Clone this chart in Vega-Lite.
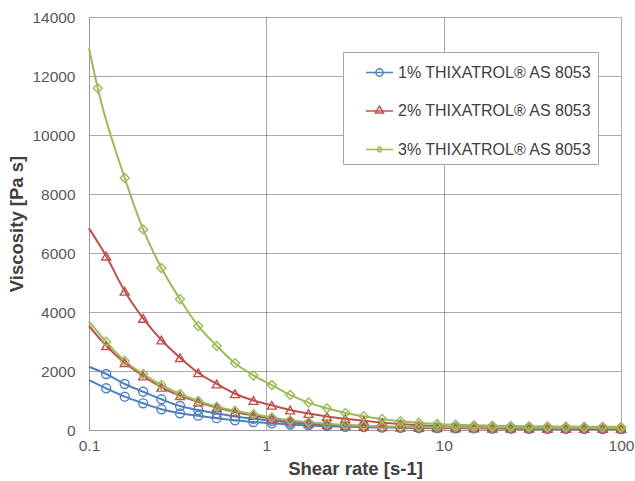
{
  "$schema": "https://vega.github.io/schema/vega-lite/v6.json",
  "width": 532,
  "height": 413,
  "autosize": {"type": "none"},
  "padding": {"left": 89, "top": 17, "right": 14, "bottom": 51},
  "background": "white",
  "config": {
    "view": {"stroke": null},
    "font": "Liberation Sans",
    "axis": {
      "labelFont": "Liberation Sans",
      "labelFontSize": 15.5,
      "labelColor": "#595959",
      "titleFont": "Liberation Sans",
      "titleFontSize": 18.5,
      "titleFontWeight": "bold",
      "titleColor": "#404040",
      "ticks": false,
      "grid": true,
      "gridColor": "#555555",
      "gridDash": [1, 1],
      "gridWidth": 1,
      "domainColor": "#9a9a9a",
      "domainWidth": 1,
      "labelFlush": false,
      "labelOverlap": false
    }
  },
  "datasets": {
    "curves": [
      {"series": "1% THIXATROL® AS 8053", "run": "up", "rate": 0.1, "viscosity": 2146},
      {"series": "1% THIXATROL® AS 8053", "run": "up", "rate": 0.125, "viscosity": 1898},
      {"series": "1% THIXATROL® AS 8053", "run": "up", "rate": 0.159, "viscosity": 1559},
      {"series": "1% THIXATROL® AS 8053", "run": "up", "rate": 0.202, "viscosity": 1298},
      {"series": "1% THIXATROL® AS 8053", "run": "up", "rate": 0.256, "viscosity": 1041},
      {"series": "1% THIXATROL® AS 8053", "run": "up", "rate": 0.326, "viscosity": 814},
      {"series": "1% THIXATROL® AS 8053", "run": "up", "rate": 0.413, "viscosity": 678},
      {"series": "1% THIXATROL® AS 8053", "run": "up", "rate": 0.525, "viscosity": 560},
      {"series": "1% THIXATROL® AS 8053", "run": "up", "rate": 0.666, "viscosity": 460},
      {"series": "1% THIXATROL® AS 8053", "run": "up", "rate": 0.846, "viscosity": 380},
      {"series": "1% THIXATROL® AS 8053", "run": "up", "rate": 1.074, "viscosity": 310},
      {"series": "1% THIXATROL® AS 8053", "run": "up", "rate": 1.363, "viscosity": 255},
      {"series": "1% THIXATROL® AS 8053", "run": "up", "rate": 1.73, "viscosity": 210},
      {"series": "1% THIXATROL® AS 8053", "run": "up", "rate": 2.197, "viscosity": 175},
      {"series": "1% THIXATROL® AS 8053", "run": "up", "rate": 2.789, "viscosity": 150},
      {"series": "1% THIXATROL® AS 8053", "run": "up", "rate": 3.541, "viscosity": 130},
      {"series": "1% THIXATROL® AS 8053", "run": "up", "rate": 4.495, "viscosity": 115},
      {"series": "1% THIXATROL® AS 8053", "run": "up", "rate": 5.706, "viscosity": 100},
      {"series": "1% THIXATROL® AS 8053", "run": "up", "rate": 7.244, "viscosity": 90},
      {"series": "1% THIXATROL® AS 8053", "run": "up", "rate": 9.196, "viscosity": 82},
      {"series": "1% THIXATROL® AS 8053", "run": "up", "rate": 11.68, "viscosity": 75},
      {"series": "1% THIXATROL® AS 8053", "run": "up", "rate": 14.82, "viscosity": 70},
      {"series": "1% THIXATROL® AS 8053", "run": "up", "rate": 18.82, "viscosity": 65},
      {"series": "1% THIXATROL® AS 8053", "run": "up", "rate": 23.89, "viscosity": 60},
      {"series": "1% THIXATROL® AS 8053", "run": "up", "rate": 30.33, "viscosity": 56},
      {"series": "1% THIXATROL® AS 8053", "run": "up", "rate": 38.5, "viscosity": 52},
      {"series": "1% THIXATROL® AS 8053", "run": "up", "rate": 48.88, "viscosity": 48},
      {"series": "1% THIXATROL® AS 8053", "run": "up", "rate": 62.03, "viscosity": 45},
      {"series": "1% THIXATROL® AS 8053", "run": "up", "rate": 78.76, "viscosity": 42},
      {"series": "1% THIXATROL® AS 8053", "run": "up", "rate": 100, "viscosity": 40},

      {"series": "1% THIXATROL® AS 8053", "run": "down", "rate": 0.1, "viscosity": 1695},
      {"series": "1% THIXATROL® AS 8053", "run": "down", "rate": 0.125, "viscosity": 1414},
      {"series": "1% THIXATROL® AS 8053", "run": "down", "rate": 0.159, "viscosity": 1129},
      {"series": "1% THIXATROL® AS 8053", "run": "down", "rate": 0.202, "viscosity": 905},
      {"series": "1% THIXATROL® AS 8053", "run": "down", "rate": 0.256, "viscosity": 702},
      {"series": "1% THIXATROL® AS 8053", "run": "down", "rate": 0.326, "viscosity": 566},
      {"series": "1% THIXATROL® AS 8053", "run": "down", "rate": 0.413, "viscosity": 485},
      {"series": "1% THIXATROL® AS 8053", "run": "down", "rate": 0.525, "viscosity": 400},
      {"series": "1% THIXATROL® AS 8053", "run": "down", "rate": 0.666, "viscosity": 330},
      {"series": "1% THIXATROL® AS 8053", "run": "down", "rate": 0.846, "viscosity": 270},
      {"series": "1% THIXATROL® AS 8053", "run": "down", "rate": 1.074, "viscosity": 225},
      {"series": "1% THIXATROL® AS 8053", "run": "down", "rate": 1.363, "viscosity": 185},
      {"series": "1% THIXATROL® AS 8053", "run": "down", "rate": 1.73, "viscosity": 155},
      {"series": "1% THIXATROL® AS 8053", "run": "down", "rate": 2.197, "viscosity": 130},
      {"series": "1% THIXATROL® AS 8053", "run": "down", "rate": 2.789, "viscosity": 110},
      {"series": "1% THIXATROL® AS 8053", "run": "down", "rate": 3.541, "viscosity": 95},
      {"series": "1% THIXATROL® AS 8053", "run": "down", "rate": 4.495, "viscosity": 85},
      {"series": "1% THIXATROL® AS 8053", "run": "down", "rate": 5.706, "viscosity": 75},
      {"series": "1% THIXATROL® AS 8053", "run": "down", "rate": 7.244, "viscosity": 68},
      {"series": "1% THIXATROL® AS 8053", "run": "down", "rate": 9.196, "viscosity": 62},
      {"series": "1% THIXATROL® AS 8053", "run": "down", "rate": 11.68, "viscosity": 57},
      {"series": "1% THIXATROL® AS 8053", "run": "down", "rate": 14.82, "viscosity": 53},
      {"series": "1% THIXATROL® AS 8053", "run": "down", "rate": 18.82, "viscosity": 49},
      {"series": "1% THIXATROL® AS 8053", "run": "down", "rate": 23.89, "viscosity": 46},
      {"series": "1% THIXATROL® AS 8053", "run": "down", "rate": 30.33, "viscosity": 43},
      {"series": "1% THIXATROL® AS 8053", "run": "down", "rate": 38.5, "viscosity": 40},
      {"series": "1% THIXATROL® AS 8053", "run": "down", "rate": 48.88, "viscosity": 37},
      {"series": "1% THIXATROL® AS 8053", "run": "down", "rate": 62.03, "viscosity": 35},
      {"series": "1% THIXATROL® AS 8053", "run": "down", "rate": 78.76, "viscosity": 33},
      {"series": "1% THIXATROL® AS 8053", "run": "down", "rate": 100, "viscosity": 31},

      {"series": "2% THIXATROL® AS 8053", "run": "up", "rate": 0.1, "viscosity": 6837},
      {"series": "2% THIXATROL® AS 8053", "run": "up", "rate": 0.125, "viscosity": 5895},
      {"series": "2% THIXATROL® AS 8053", "run": "up", "rate": 0.159, "viscosity": 4705},
      {"series": "2% THIXATROL® AS 8053", "run": "up", "rate": 0.202, "viscosity": 3786},
      {"series": "2% THIXATROL® AS 8053", "run": "up", "rate": 0.256, "viscosity": 3051},
      {"series": "2% THIXATROL® AS 8053", "run": "up", "rate": 0.326, "viscosity": 2451},
      {"series": "2% THIXATROL® AS 8053", "run": "up", "rate": 0.413, "viscosity": 1942},
      {"series": "2% THIXATROL® AS 8053", "run": "up", "rate": 0.525, "viscosity": 1560},
      {"series": "2% THIXATROL® AS 8053", "run": "up", "rate": 0.666, "viscosity": 1230},
      {"series": "2% THIXATROL® AS 8053", "run": "up", "rate": 0.846, "viscosity": 1000},
      {"series": "2% THIXATROL® AS 8053", "run": "up", "rate": 1.074, "viscosity": 840},
      {"series": "2% THIXATROL® AS 8053", "run": "up", "rate": 1.363, "viscosity": 678},
      {"series": "2% THIXATROL® AS 8053", "run": "up", "rate": 1.73, "viscosity": 560},
      {"series": "2% THIXATROL® AS 8053", "run": "up", "rate": 2.197, "viscosity": 460},
      {"series": "2% THIXATROL® AS 8053", "run": "up", "rate": 2.789, "viscosity": 380},
      {"series": "2% THIXATROL® AS 8053", "run": "up", "rate": 3.541, "viscosity": 310},
      {"series": "2% THIXATROL® AS 8053", "run": "up", "rate": 4.495, "viscosity": 250},
      {"series": "2% THIXATROL® AS 8053", "run": "up", "rate": 5.706, "viscosity": 200},
      {"series": "2% THIXATROL® AS 8053", "run": "up", "rate": 7.244, "viscosity": 160},
      {"series": "2% THIXATROL® AS 8053", "run": "up", "rate": 9.196, "viscosity": 130},
      {"series": "2% THIXATROL® AS 8053", "run": "up", "rate": 11.68, "viscosity": 112},
      {"series": "2% THIXATROL® AS 8053", "run": "up", "rate": 14.82, "viscosity": 100},
      {"series": "2% THIXATROL® AS 8053", "run": "up", "rate": 18.82, "viscosity": 92},
      {"series": "2% THIXATROL® AS 8053", "run": "up", "rate": 23.89, "viscosity": 86},
      {"series": "2% THIXATROL® AS 8053", "run": "up", "rate": 30.33, "viscosity": 81},
      {"series": "2% THIXATROL® AS 8053", "run": "up", "rate": 38.5, "viscosity": 77},
      {"series": "2% THIXATROL® AS 8053", "run": "up", "rate": 48.88, "viscosity": 73},
      {"series": "2% THIXATROL® AS 8053", "run": "up", "rate": 62.03, "viscosity": 70},
      {"series": "2% THIXATROL® AS 8053", "run": "up", "rate": 78.76, "viscosity": 67},
      {"series": "2% THIXATROL® AS 8053", "run": "up", "rate": 100, "viscosity": 64},

      {"series": "2% THIXATROL® AS 8053", "run": "down", "rate": 0.1, "viscosity": 3525},
      {"series": "2% THIXATROL® AS 8053", "run": "down", "rate": 0.125, "viscosity": 2858},
      {"series": "2% THIXATROL® AS 8053", "run": "down", "rate": 0.159, "viscosity": 2280},
      {"series": "2% THIXATROL® AS 8053", "run": "down", "rate": 0.202, "viscosity": 1831},
      {"series": "2% THIXATROL® AS 8053", "run": "down", "rate": 0.256, "viscosity": 1448},
      {"series": "2% THIXATROL® AS 8053", "run": "down", "rate": 0.326, "viscosity": 1163},
      {"series": "2% THIXATROL® AS 8053", "run": "down", "rate": 0.413, "viscosity": 950},
      {"series": "2% THIXATROL® AS 8053", "run": "down", "rate": 0.525, "viscosity": 760},
      {"series": "2% THIXATROL® AS 8053", "run": "down", "rate": 0.666, "viscosity": 610},
      {"series": "2% THIXATROL® AS 8053", "run": "down", "rate": 0.846, "viscosity": 490},
      {"series": "2% THIXATROL® AS 8053", "run": "down", "rate": 1.074, "viscosity": 390},
      {"series": "2% THIXATROL® AS 8053", "run": "down", "rate": 1.363, "viscosity": 305},
      {"series": "2% THIXATROL® AS 8053", "run": "down", "rate": 1.73, "viscosity": 240},
      {"series": "2% THIXATROL® AS 8053", "run": "down", "rate": 2.197, "viscosity": 190},
      {"series": "2% THIXATROL® AS 8053", "run": "down", "rate": 2.789, "viscosity": 155},
      {"series": "2% THIXATROL® AS 8053", "run": "down", "rate": 3.541, "viscosity": 130},
      {"series": "2% THIXATROL® AS 8053", "run": "down", "rate": 4.495, "viscosity": 110},
      {"series": "2% THIXATROL® AS 8053", "run": "down", "rate": 5.706, "viscosity": 95},
      {"series": "2% THIXATROL® AS 8053", "run": "down", "rate": 7.244, "viscosity": 85},
      {"series": "2% THIXATROL® AS 8053", "run": "down", "rate": 9.196, "viscosity": 78},
      {"series": "2% THIXATROL® AS 8053", "run": "down", "rate": 11.68, "viscosity": 72},
      {"series": "2% THIXATROL® AS 8053", "run": "down", "rate": 14.82, "viscosity": 68},
      {"series": "2% THIXATROL® AS 8053", "run": "down", "rate": 18.82, "viscosity": 64},
      {"series": "2% THIXATROL® AS 8053", "run": "down", "rate": 23.89, "viscosity": 61},
      {"series": "2% THIXATROL® AS 8053", "run": "down", "rate": 30.33, "viscosity": 58},
      {"series": "2% THIXATROL® AS 8053", "run": "down", "rate": 38.5, "viscosity": 56},
      {"series": "2% THIXATROL® AS 8053", "run": "down", "rate": 48.88, "viscosity": 54},
      {"series": "2% THIXATROL® AS 8053", "run": "down", "rate": 62.03, "viscosity": 52},
      {"series": "2% THIXATROL® AS 8053", "run": "down", "rate": 78.76, "viscosity": 50},
      {"series": "2% THIXATROL® AS 8053", "run": "down", "rate": 100, "viscosity": 48},

      {"series": "3% THIXATROL® AS 8053", "run": "up", "rate": 0.1, "viscosity": 12940},
      {"series": "3% THIXATROL® AS 8053", "run": "up", "rate": 0.112, "viscosity": 11583},
      {"series": "3% THIXATROL® AS 8053", "run": "up", "rate": 0.159, "viscosity": 8543},
      {"series": "3% THIXATROL® AS 8053", "run": "up", "rate": 0.202, "viscosity": 6800},
      {"series": "3% THIXATROL® AS 8053", "run": "up", "rate": 0.256, "viscosity": 5492},
      {"series": "3% THIXATROL® AS 8053", "run": "up", "rate": 0.326, "viscosity": 4434},
      {"series": "3% THIXATROL® AS 8053", "run": "up", "rate": 0.413, "viscosity": 3526},
      {"series": "3% THIXATROL® AS 8053", "run": "up", "rate": 0.525, "viscosity": 2848},
      {"series": "3% THIXATROL® AS 8053", "run": "up", "rate": 0.666, "viscosity": 2261},
      {"series": "3% THIXATROL® AS 8053", "run": "up", "rate": 0.846, "viscosity": 1850},
      {"series": "3% THIXATROL® AS 8053", "run": "up", "rate": 1.074, "viscosity": 1525},
      {"series": "3% THIXATROL® AS 8053", "run": "up", "rate": 1.363, "viscosity": 1190},
      {"series": "3% THIXATROL® AS 8053", "run": "up", "rate": 1.73, "viscosity": 930},
      {"series": "3% THIXATROL® AS 8053", "run": "up", "rate": 2.197, "viscosity": 735},
      {"series": "3% THIXATROL® AS 8053", "run": "up", "rate": 2.789, "viscosity": 575},
      {"series": "3% THIXATROL® AS 8053", "run": "up", "rate": 3.541, "viscosity": 470},
      {"series": "3% THIXATROL® AS 8053", "run": "up", "rate": 4.495, "viscosity": 375},
      {"series": "3% THIXATROL® AS 8053", "run": "up", "rate": 5.706, "viscosity": 300},
      {"series": "3% THIXATROL® AS 8053", "run": "up", "rate": 7.244, "viscosity": 245},
      {"series": "3% THIXATROL® AS 8053", "run": "up", "rate": 9.196, "viscosity": 205},
      {"series": "3% THIXATROL® AS 8053", "run": "up", "rate": 11.68, "viscosity": 180},
      {"series": "3% THIXATROL® AS 8053", "run": "up", "rate": 14.82, "viscosity": 160},
      {"series": "3% THIXATROL® AS 8053", "run": "up", "rate": 18.82, "viscosity": 148},
      {"series": "3% THIXATROL® AS 8053", "run": "up", "rate": 23.89, "viscosity": 138},
      {"series": "3% THIXATROL® AS 8053", "run": "up", "rate": 30.33, "viscosity": 130},
      {"series": "3% THIXATROL® AS 8053", "run": "up", "rate": 38.5, "viscosity": 124},
      {"series": "3% THIXATROL® AS 8053", "run": "up", "rate": 48.88, "viscosity": 118},
      {"series": "3% THIXATROL® AS 8053", "run": "up", "rate": 62.03, "viscosity": 113},
      {"series": "3% THIXATROL® AS 8053", "run": "up", "rate": 78.76, "viscosity": 109},
      {"series": "3% THIXATROL® AS 8053", "run": "up", "rate": 100, "viscosity": 105},

      {"series": "3% THIXATROL® AS 8053", "run": "down", "rate": 0.1, "viscosity": 3671},
      {"series": "3% THIXATROL® AS 8053", "run": "down", "rate": 0.125, "viscosity": 2993},
      {"series": "3% THIXATROL® AS 8053", "run": "down", "rate": 0.159, "viscosity": 2339},
      {"series": "3% THIXATROL® AS 8053", "run": "down", "rate": 0.202, "viscosity": 1898},
      {"series": "3% THIXATROL® AS 8053", "run": "down", "rate": 0.256, "viscosity": 1526},
      {"series": "3% THIXATROL® AS 8053", "run": "down", "rate": 0.326, "viscosity": 1220},
      {"series": "3% THIXATROL® AS 8053", "run": "down", "rate": 0.413, "viscosity": 985},
      {"series": "3% THIXATROL® AS 8053", "run": "down", "rate": 0.525, "viscosity": 790},
      {"series": "3% THIXATROL® AS 8053", "run": "down", "rate": 0.666, "viscosity": 650},
      {"series": "3% THIXATROL® AS 8053", "run": "down", "rate": 0.846, "viscosity": 535},
      {"series": "3% THIXATROL® AS 8053", "run": "down", "rate": 1.074, "viscosity": 425},
      {"series": "3% THIXATROL® AS 8053", "run": "down", "rate": 1.363, "viscosity": 330},
      {"series": "3% THIXATROL® AS 8053", "run": "down", "rate": 1.73, "viscosity": 260},
      {"series": "3% THIXATROL® AS 8053", "run": "down", "rate": 2.197, "viscosity": 210},
      {"series": "3% THIXATROL® AS 8053", "run": "down", "rate": 2.789, "viscosity": 170},
      {"series": "3% THIXATROL® AS 8053", "run": "down", "rate": 3.541, "viscosity": 140},
      {"series": "3% THIXATROL® AS 8053", "run": "down", "rate": 4.495, "viscosity": 120},
      {"series": "3% THIXATROL® AS 8053", "run": "down", "rate": 5.706, "viscosity": 108},
      {"series": "3% THIXATROL® AS 8053", "run": "down", "rate": 7.244, "viscosity": 100},
      {"series": "3% THIXATROL® AS 8053", "run": "down", "rate": 9.196, "viscosity": 94},
      {"series": "3% THIXATROL® AS 8053", "run": "down", "rate": 11.68, "viscosity": 90},
      {"series": "3% THIXATROL® AS 8053", "run": "down", "rate": 14.82, "viscosity": 87},
      {"series": "3% THIXATROL® AS 8053", "run": "down", "rate": 18.82, "viscosity": 84},
      {"series": "3% THIXATROL® AS 8053", "run": "down", "rate": 23.89, "viscosity": 82},
      {"series": "3% THIXATROL® AS 8053", "run": "down", "rate": 30.33, "viscosity": 80},
      {"series": "3% THIXATROL® AS 8053", "run": "down", "rate": 38.5, "viscosity": 78},
      {"series": "3% THIXATROL® AS 8053", "run": "down", "rate": 48.88, "viscosity": 76},
      {"series": "3% THIXATROL® AS 8053", "run": "down", "rate": 62.03, "viscosity": 74},
      {"series": "3% THIXATROL® AS 8053", "run": "down", "rate": 78.76, "viscosity": 72},
      {"series": "3% THIXATROL® AS 8053", "run": "down", "rate": 100, "viscosity": 70}
    ]
  },
  "data": {"name": "curves"},
  "encoding": {
    "x": {
      "field": "rate",
      "type": "quantitative",
      "scale": {"type": "log", "domain": [0.1, 100], "nice": false},
      "axis": {"title": "Shear rate [s-1]", "values": [0.1, 1, 10, 100], "format": "~g", "labelPadding": 8, "titlePadding": 6}
    },
    "y": {
      "field": "viscosity",
      "type": "quantitative",
      "scale": {"domain": [0, 14000], "nice": false},
      "axis": {"title": "Viscosity [Pa s]", "values": [0, 2000, 4000, 6000, 8000, 10000, 12000, 14000], "format": "d", "labelPadding": 14, "titlePadding": 5}
    }
  },
  "layer": [
    {
      "mark": {"type": "line", "interpolate": "monotone", "strokeWidth": 2},
      "encoding": {
        "color": {
          "field": "series", "type": "nominal", "legend": null,
          "scale": {"domain": ["1% THIXATROL® AS 8053", "2% THIXATROL® AS 8053", "3% THIXATROL® AS 8053"], "range": ["#4F81BD", "#C0504D", "#9BBB59"]}
        },
        "detail": {"field": "run", "type": "nominal"}
      }
    },
    {
      "transform": [{"filter": "datum.rate > 0.1"}],
      "mark": {"type": "point", "filled": false, "size": 80, "strokeWidth": 1.4, "opacity": 1},
      "encoding": {
        "color": {
          "field": "series", "type": "nominal", "legend": null,
          "scale": {"domain": ["1% THIXATROL® AS 8053", "2% THIXATROL® AS 8053", "3% THIXATROL® AS 8053"], "range": ["#4F81BD", "#C0504D", "#9BBB59"]}
        },
        "shape": {
          "field": "series", "type": "nominal", "legend": null,
          "scale": {"domain": ["1% THIXATROL® AS 8053", "2% THIXATROL® AS 8053", "3% THIXATROL® AS 8053"], "range": ["circle", "triangle-up", "diamond"]}
        }
      }
    },
    {
      "transform": [{"filter": "datum.rate < 0"}],
      "mark": {"type": "point", "filled": false, "opacity": 1},
      "encoding": {
        "color": {
          "field": "series", "type": "nominal",
          "scale": {"domain": ["1% THIXATROL® AS 8053", "2% THIXATROL® AS 8053", "3% THIXATROL® AS 8053"], "range": ["#4F81BD", "#C0504D", "#9BBB59"]},
          "legend": {
            "title": null, "orient": "none", "legendX": 254, "legendY": 35,
            "padding": 6, "fillColor": "white", "strokeColor": "#a6a6a6",
            "labelFont": "Liberation Sans", "labelFontSize": 16, "labelColor": "#404040",
            "symbolSize": 729, "symbolStrokeWidth": 1.5, "symbolOffset": 16,
            "labelOffset": 4, "rowPadding": 15.5, "labelLimit": 400,
            "labelExpr": "datum.label + '     '"
          }
        },
        "shape": {
          "field": "series", "type": "nominal",
          "scale": {"domain": ["1% THIXATROL® AS 8053", "2% THIXATROL® AS 8053", "3% THIXATROL® AS 8053"],
            "range": [
              "M-1,0H1M-0.27,0A0.27,0.27,0,1,0,0.27,0A0.27,0.27,0,1,0,-0.27,0Z",
              "M-1,0H1M0,-0.36L0.3,0.14L-0.3,0.14Z",
              "M-1,0H1M0,-0.2L0.2,0L0,0.2L-0.2,0Z"
            ]},
          "legend": {
            "title": null, "orient": "none", "legendX": 254, "legendY": 35,
            "padding": 6, "fillColor": "white", "strokeColor": "#a6a6a6",
            "labelFont": "Liberation Sans", "labelFontSize": 16, "labelColor": "#404040",
            "symbolSize": 729, "symbolStrokeWidth": 1.5, "symbolOffset": 16,
            "labelOffset": 4, "rowPadding": 15.5, "labelLimit": 400,
            "labelExpr": "datum.label + '     '"
          }
        }
      }
    }
  ],
  "resolve": {"scale": {"shape": "independent", "color": "independent"}}
}
